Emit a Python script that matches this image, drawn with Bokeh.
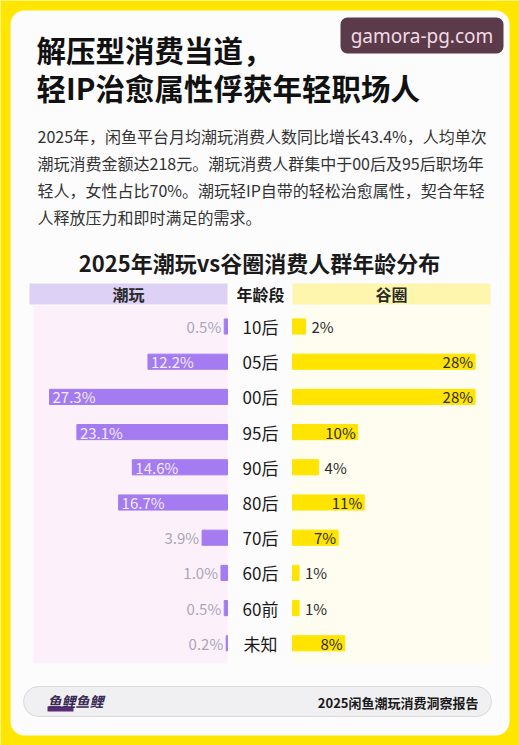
from bokeh.plotting import figure
from bokeh.models import Range1d, ColumnDataSource, Label, BoxAnnotation
from bokeh.embed import file_html
from bokeh.resources import INLINE
from bokeh.core.properties import value

# ---------------- data ----------------
ages = ["10后", "05后", "00后", "95后", "90后", "80后", "70后", "60后", "60前", "未知"]
chaowan = [0.5, 12.2, 27.3, 23.1, 14.6, 16.7, 3.9, 1.0, 0.5, 0.2]
guquan = [2, 28, 28, 10, 4, 11, 7, 1, 1, 8]
left_title = "潮玩"
mid_title = "年龄段"
right_title = "谷圈"
headline = ["解压型消费当道，", "轻IP治愈属性俘获年轻职场人"]
paragraph = [
    "2025年，闲鱼平台月均潮玩消费人数同比增长43.4%，人均单次",
    "潮玩消费金额达218元。潮玩消费人群集中于00后及95后职场年",
    "轻人，女性占比70%。潮玩轻IP自带的轻松治愈属性，契合年轻",
    "人释放压力和即时满足的需求。",
]
chart_title = "2025年潮玩vs谷圈消费人群年龄分布"
footer_text = "2025闲鱼潮玩消费洞察报告"
watermark = "gamora-pg.com"

# ---------------- layout constants ----------------
W, H = 519, 745
PX = 6.52          # pixels per percent
CX_L, CX_R = 227, 292
ROW0, ROWH = 326, 35.2
CJK = "Noto Sans CJK SC"

p = figure(width=W, height=H, x_range=Range1d(0, W), y_range=Range1d(H, 0),
           output_backend="svg", toolbar_location=None, min_border=0,
           x_axis_location=None, y_axis_location=None,
           background_fill_color="#FFE600", border_fill_color="#FFE600",
           outline_line_color=None)
p.grid.visible = False

p.extra_x_ranges = {
    "L": Range1d(start=CX_L / PX, end=(CX_L - W) / PX),
    "R": Range1d(start=-CX_R / PX, end=(W - CX_R) / PX),
}
p.extra_y_ranges = {"rows": Range1d(start=(H - ROW0) / ROWH, end=-ROW0 / ROWH)}

def box(l, r, t, b, color, radius=0, line=None, lw=1):
    bx = BoxAnnotation(left=l, right=r, top=t, bottom=b, fill_color=color, fill_alpha=1,
                       line_color=line, line_width=lw, border_radius=radius, level="underlay")
    p.add_layout(bx)

# card
box(10, 509, 10, 735, "#FCFCFD", radius=14)
# watermark box
box(340, 503, 17, 53, "#5B3A4A", radius=7)
# headers
box(29, 227, 283, 304, "#DDD1F6")
box(292, 490, 283, 304, "#FFF6AE")
# panels
box(33, 227, 305, 663, "#FCF1FB")
box(292, 490, 305, 663, "#FEFDF0")
# footer pill
box(23, 491, 686, 716, "#F0F0F2", radius=15, line="#9C9C9C", lw=1)
# logo base strip
box(47, 73, 706, 711, "#5A2A7A")

def label(x, y, text, size, color, bold=False, align="left", font=CJK, style=None):
    p.add_layout(Label(x=x, y=y, text=text, text_font=font, text_font_size=f"{size}px",
                       text_color=color,
                       text_font_style=style or ("bold" if bold else "normal"),
                       text_align=align, text_baseline="middle"))

label(421.5, 35, watermark, 19, "#F2DCE4", align="center", font="Noto Sans")
label(36, 48, headline[0], 29.5, "#111111", bold=True)
label(36, 86, headline[1], 29.5, "#111111", bold=True)
for i, line in enumerate(paragraph):
    label(37, 135 + i * 27.3, line, 16, "#333333")
label(259, 261, chart_title, 22, "#1a1a1a", bold=True, align="center")
label(128, 293, left_title, 16, "#2a2a2a", bold=True, align="center")
label(260, 293, mid_title, 16, "#1a1a1a", bold=True, align="center")
label(391, 293, right_title, 16, "#2a2a2a", bold=True, align="center")
label(478, 702, footer_text, 13, "#1a1a1a", bold=True, align="right")
label(47, 700, "鱼鲤鱼鲤", 14, "#3B2A55", style="bold italic")

# ---------------- bars ----------------
rows = list(range(len(ages)))
left_inside = [v >= 10 for v in chaowan]
right_inside = [v >= 5 for v in guquan]
src = ColumnDataSource(dict(
    row=rows, age=ages, cw=chaowan, gq=guquan,
    cw_lab=[f"{v:.1f}%" for v in chaowan],
    gq_lab=[f"{v}%" for v in guquan],
    cw_align=["left" if f else "right" for f in left_inside],
    cw_off=[3 if f else -3 for f in left_inside],
    cw_col=["#F1EBFF" if f else "#A9A6B8" for f in left_inside],
    gq_align=["right" if f else "left" for f in right_inside],
    gq_off=[-2 if f else 6 for f in right_inside],
))

p.hbar(y="row", left=0, right="cw", height=0.43, source=src, color="#A47BF0",
       x_range_name="L", y_range_name="rows")
p.hbar(y="row", left=0, right="gq", height=0.43, source=src, color="#FFE400",
       x_range_name="R", y_range_name="rows")

p.text(x="cw", y="row", text="cw_lab", source=src, x_range_name="L", y_range_name="rows",
       text_align="cw_align", x_offset="cw_off", text_baseline="middle",
       text_color="cw_col", text_font=value(CJK), text_font_size="15px")
p.text(x="gq", y="row", text="gq_lab", source=src, x_range_name="R", y_range_name="rows",
       text_align="gq_align", x_offset="gq_off", text_baseline="middle",
       text_color="#2b2b2b", text_font=value(CJK), text_font_size="15px")
p.text(x=260, y="row", text="age", source=src, y_range_name="rows",
       text_align="center", text_baseline="middle", text_color="#1a1a1a",
       text_font=value(CJK), text_font_size="17px")

open("out.html", "w").write(file_html(p, INLINE))
